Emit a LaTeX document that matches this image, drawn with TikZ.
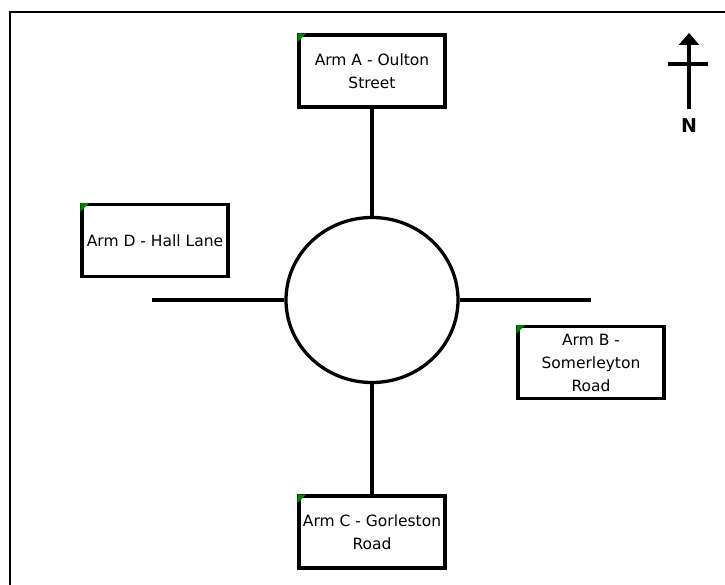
\documentclass[tikz,border=0pt]{standalone}
\usepackage{fontspec}
\setmainfont{DejaVu Sans}
\usepackage{tikz}
\usetikzlibrary{arrows.meta,shapes.geometric}

\begin{document}
\begin{tikzpicture}[x=1pt,y=-1pt,
	armbox/.style={rectangle,draw,line width=3.3pt,align=center,inner sep=0pt,
		minimum width=146pt,minimum height=72pt,
		font=\fontsize{15.5pt}{23pt}\selectfont},
	road/.style={line width=3.3pt}]
\useasboundingbox (0,0) rectangle (725,585);
% frame
\draw[line width=2.2pt] (10,585) -- (10,12) -- (725,12);

\begin{scope}[every node/.style={armbox}]
	\node (armA) at (372,71) {Arm A - Oulton\\Street};
	\node (armD) at (155,240.5) {Arm D - Hall Lane};
	\node (armB) at (591,362.5) {Arm B -\\Somerleyton\\Road};
	\node (armC) at (372,532) {Arm C - Gorleston\\Road};
\end{scope}
\foreach \b in {armA,armB,armC,armD}
	\fill[green!50!black] (\b.north west) -- ++(9,0) -- ++(-9,9) -- cycle;

\node[ellipse,draw,line width=3.3pt,minimum width=172pt,minimum height=165pt,inner sep=0pt] (rbt) at (372,300) {};
\coordinate (westend) at (152,300);
\coordinate (eastend) at (591,300);

\begin{scope}
	\draw[road] (armA) -- (rbt);
	\draw[road] (rbt) -- (armC);
	\draw[road] (westend) -- (rbt.west);
	\draw[road] (rbt.east) -- (eastend);
\end{scope}

% north arrow
\coordinate (nbase) at (689,109);
\coordinate (ntip) at (689,33);
\draw[line width=3.3pt,-{Triangle[length=12pt,width=20pt]}] (nbase) -- (ntip);
\draw[line width=3.3pt] (668,64) -- (708,64);
\node[font=\fontsize{19pt}{22pt}\selectfont\bfseries] (north) at (689,126) {N};
\end{tikzpicture}
\end{document}
